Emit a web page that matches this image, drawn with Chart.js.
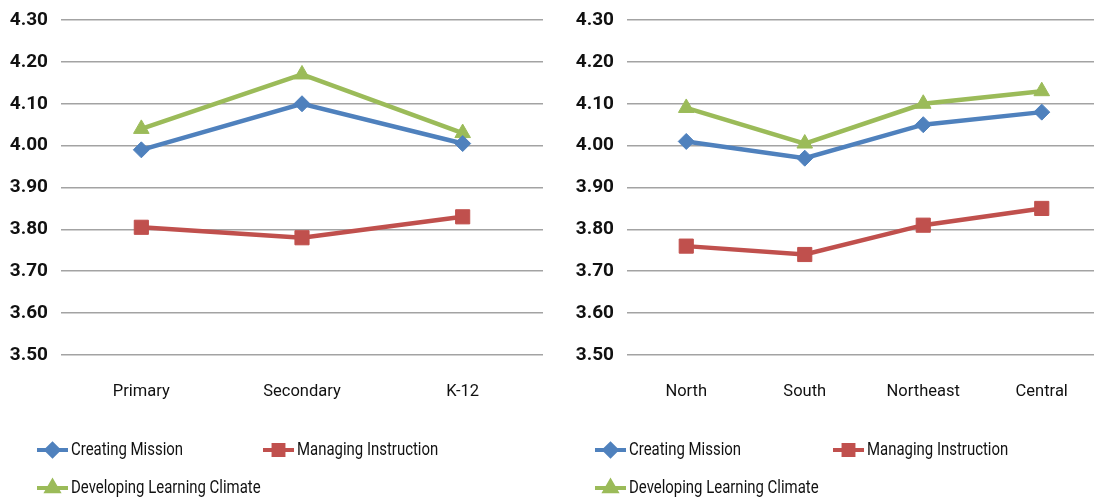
<!DOCTYPE html>
<html>
<head>
<meta charset="utf-8">
<script src="https://cdn.jsdelivr.net/npm/chart.js@4.4.1/dist/chart.umd.min.js"></script>
<style>
  html, body { margin: 0; padding: 0; background: #fff; width: 1094px; height: 500px; overflow: hidden; position: relative; }
  .panel { position: absolute; top: 0; height: 500px; }
  #levelPanel { left: 0; width: 545px; }
  #regionPanel { left: 560px; width: 541px; }
</style>
</head>
<body>
<div class="panel" id="levelPanel"><canvas id="levelChart"></canvas></div>
<div class="panel" id="regionPanel"><canvas id="regionChart"></canvas></div>
<script>
// Mean leadership scores by school level and by region
const seriesNames = ['Creating Mission', 'Managing Instruction', 'Developing Learning Climate'];
const yTickValues = [3.50, 3.60, 3.70, 3.80, 3.90, 4.00, 4.10, 4.20, 4.30];

const schoolLevels = ['Primary', 'Secondary', 'K-12'];
const levelCreatingMission = [3.99, 4.10, 4.005];
const levelManagingInstruction = [3.805, 3.78, 3.83];
const levelLearningClimate = [4.04, 4.17, 4.03];

const regions = ['North', 'South', 'Northeast', 'Central'];
const regionCreatingMission = [4.01, 3.97, 4.05, 4.08];
const regionManagingInstruction = [3.76, 3.74, 3.81, 3.85];
const regionLearningClimate = [4.09, 4.005, 4.10, 4.13];

const FONT = "Roboto, 'Liberation Sans', sans-serif";
const seriesColors = ['#4F81BD', '#C0504D', '#9BBB59'];
const seriesMarkers = ['rectRot', 'rect', 'triangle'];
const markerRadii = [8, 10, 9];
const keyMarkerRadii = [6, 7, 6.5];

// Legend drawn as two columns: line + marker swatch followed by the series name
const seriesKey = {
  id: 'seriesKey',
  afterDraw(chart, args, opts) {
    const ctx = chart.ctx;
    chart.data.datasets.forEach((ds, i) => {
      const [x, y] = opts.slots[i];
      ctx.save();
      ctx.strokeStyle = ds.borderColor;
      ctx.lineWidth = opts.lineWidth;
      ctx.beginPath();
      ctx.moveTo(x, y);
      ctx.lineTo(x + opts.lineLength, y);
      ctx.stroke();
      ctx.fillStyle = ds.borderColor;
      ctx.strokeStyle = ds.borderColor;
      Chart.helpers.drawPoint(ctx, {
        pointStyle: ds.pointStyle, rotation: 0, borderWidth: 1, radius: keyMarkerRadii[i]
      }, x + opts.lineLength / 2, y);
      // condensed lettering for the series names
      const tx = x + opts.lineLength + opts.gap;
      ctx.translate(tx, y);
      ctx.scale(opts.squeeze, 1);
      ctx.fillStyle = opts.color;
      ctx.font = opts.font;
      ctx.textBaseline = 'middle';
      ctx.textAlign = 'left';
      ctx.fillText(ds.label, 0, 0);
      ctx.restore();
    });
  }
};

function makeDatasets(values) {
  return values.map((vals, i) => ({
    label: seriesNames[i],
    data: vals,
    borderColor: seriesColors[i],
    backgroundColor: seriesColors[i],
    pointBackgroundColor: seriesColors[i],
    pointBorderColor: seriesColors[i],
    pointStyle: seriesMarkers[i],
    pointRadius: markerRadii[i],
    pointHoverRadius: markerRadii[i],
    pointBorderWidth: 1,
    borderWidth: 4.5,
    tension: 0,
    fill: false
  }));
}

function makeChart(canvasId, categories, values, plotLeft, padRight, slots) {
  return new Chart(document.getElementById(canvasId), {
    type: 'line',
    data: { labels: categories, datasets: makeDatasets(values) },
    plugins: [seriesKey],
    options: {
      responsive: true,
      maintainAspectRatio: false,
      animation: false,
      layout: { autoPadding: false, padding: { top: 20, left: 0, right: padRight, bottom: 0 } },
      plugins: {
        legend: { display: false },
        tooltip: { enabled: false },
        seriesKey: {
          slots: slots,
          lineLength: 31,
          lineWidth: 4,
          gap: 3,
          squeeze: 0.83,
          color: '#111',
          font: '18px ' + FONT
        }
      },
      scales: {
        x: {
          offset: true,
          grid: { display: false, drawTicks: false },
          border: { display: false },
          ticks: { padding: 27, color: '#111', font: { family: FONT, size: 16.5 } },
          afterFit(scale) {
            scale.height = 145;
            scale.paddingLeft = 0;
            scale.paddingRight = 0;
          }
        },
        y: {
          min: 3.5,
          max: 4.3,
          grid: { color: '#a3a3a3', lineWidth: 1.5, drawTicks: false },
          border: { display: false },
          ticks: {
            padding: 13,
            color: '#111',
            font: { family: FONT, size: 19, weight: 'bold' },
            callback: v => Number(v).toFixed(2)
          },
          afterBuildTicks(scale) { scale.ticks = yTickValues.map(v => ({ value: v })); },
          afterFit(scale) {
            scale.width = plotLeft;
            scale.paddingTop = 0;
            scale.paddingBottom = 0;
          }
        }
      }
    }
  });
}

makeChart('levelChart', schoolLevels,
  [levelCreatingMission, levelManagingInstruction, levelLearningClimate],
  61, 2, [[37, 450], [263, 450], [37, 488]]);

makeChart('regionChart', regions,
  [regionCreatingMission, regionManagingInstruction, regionLearningClimate],
  67, 0, [[35, 450], [273, 450], [35, 488]]);
</script>
</body>
</html>
